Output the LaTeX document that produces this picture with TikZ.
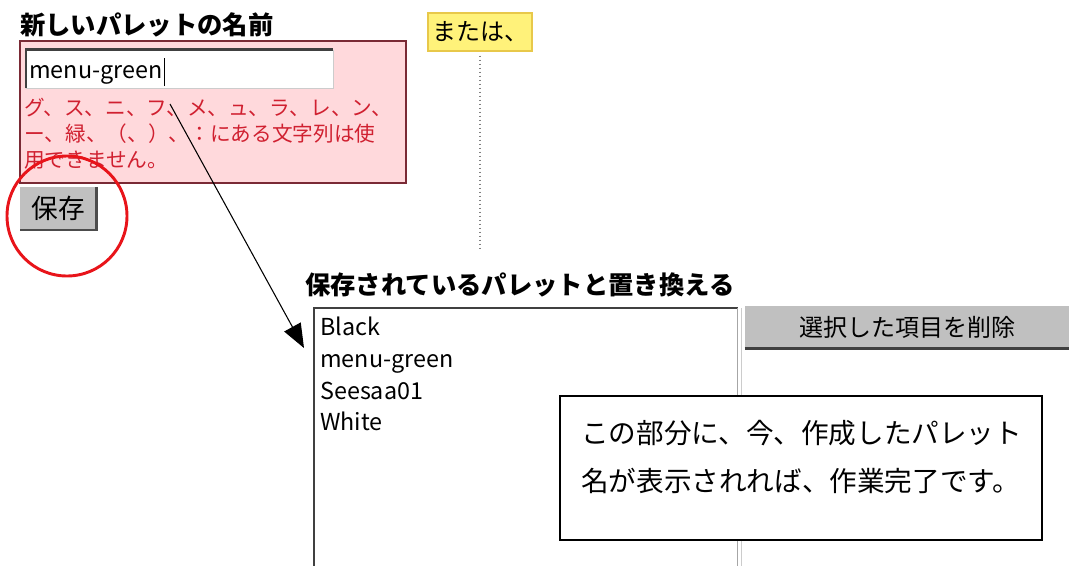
\documentclass[tikz,border=0pt]{standalone}
\usepackage{fontspec}
\setmainfont{Noto Sans CJK JP}
\usetikzlibrary{arrows.meta}
\definecolor{panelpink}{RGB}{255,217,220}
\definecolor{panelred}{RGB}{122,42,53}
\definecolor{warnred}{RGB}{208,32,48}
\definecolor{btngray}{RGB}{192,192,192}
\definecolor{notefill}{RGB}{255,242,122}
\definecolor{noteedge}{RGB}{232,200,74}
\definecolor{markred}{RGB}{232,20,26}

\begin{document}
\begin{tikzpicture}[x=0.75pt,y=-0.75pt,font=\fontsize{15}{19.5}\selectfont,
  button/.style={fill=btngray, inner sep=0pt, font=\fontsize{18}{22}\selectfont},
  heading/.style={anchor=west, inner sep=0pt, font=\fontsize{19}{23}\selectfont\bfseries},
  item/.style={anchor=base west, inner sep=0pt, font=\fontsize{17.5}{21}\selectfont}]
%\draw[help lines] (0,0) grid[step=100] (1069,565);
\useasboundingbox (0,0) rectangle (1069,565);

% new palette name
\node (title) [heading] at (20,25) {新しいパレットの名前};
\node (panel) [draw=panelred, fill=panelpink, line width=1.5pt, minimum width=289.5pt, minimum height=106.5pt, inner sep=0pt] at (213,112) {};
\node (field) [fill=white, draw=gray!40, minimum width=230pt, minimum height=28.5pt, inner sep=0pt] at (179.5,69) {};
\draw[line width=2pt, black!75] (field.south west) -- (field.north west) -- (field.north east);
\node (name) [item] at (29,78) {menu-green};
\draw[line width=0.8pt] ([xshift=1.5pt]name.base east) ++(0,8) -- ++(0,-28);
\node (warn) [anchor=north west, align=left, text=warnred, inner sep=0pt, font=\fontsize{15.5}{19.5}\selectfont] at (24,98)
  {グ、ス、ニ、フ、メ、ュ、ラ、レ、ン、\\ー、緑、（、）、：にある文字列は使\\用できません。};
\node (save) [button, font=\fontsize{20}{24}\selectfont, minimum width=57pt, minimum height=32pt] at (58,208.5) {保存};
\draw[line width=2pt, black!70] (save.north east) -- (save.south east) -- (save.south west);
\node (mark) [draw=markred, line width=2.2pt, circle, minimum size=90pt] at (67,216) {};

% or
\node (or) [draw=noteedge, fill=notefill, line width=1pt, minimum width=78pt, minimum height=28.5pt, inner sep=0pt] at (480,32) {\fontsize{18}{22}\selectfont または、};
\coordinate (orend) at (480,248);
\draw[gray, dotted, line width=1pt] ([yshift=-3pt]or.south) -- (orend);

% saved palettes
\node (title2) [heading] at (305,285) {保存されているパレットと置き換える};
\node (list) [fill=white, anchor=north west, minimum width=317.25pt, minimum height=194pt, inner sep=0pt] at (314,308) {};
\draw[line width=2.2pt, black!75] (list.south west) -- (list.north west) -- (list.north east);
\draw[line width=1pt, gray!70] (list.north east) -- (list.south east);
\draw[line width=1pt, gray!40] ([xshift=3pt]list.north east) -- ([xshift=3pt]list.south east);
\node (black) [item] at (320,335) {Black};
\node (green) [item] at (320,367) {menu-green};
\node (seesaa) [item] at (320,399) {Seesaa01};
\node (white) [item] at (320,430) {White};
\node (delete) [button, minimum width=243pt, minimum height=31.5pt] at (907,327) {選択した項目を削除};
\draw[line width=2pt, black!75] (delete.south west) -- (delete.south east);

% note
\node (note) [draw, fill=white, line width=1pt, minimum width=361.5pt, minimum height=108pt, inner sep=0pt] at (801,468) {};
\node (notetext) [anchor=north west, align=left, inner sep=0pt, font=\fontsize{20.7}{36}\selectfont] at (581,420)
  {この部分に、今、作成したパレット\\名が表示されれば、作業完了です。};

\path[draw, line width=0.8pt, -{Triangle[length=18pt,width=14pt]}] (170,104) -- (304,348);
\end{tikzpicture}
\end{document}
